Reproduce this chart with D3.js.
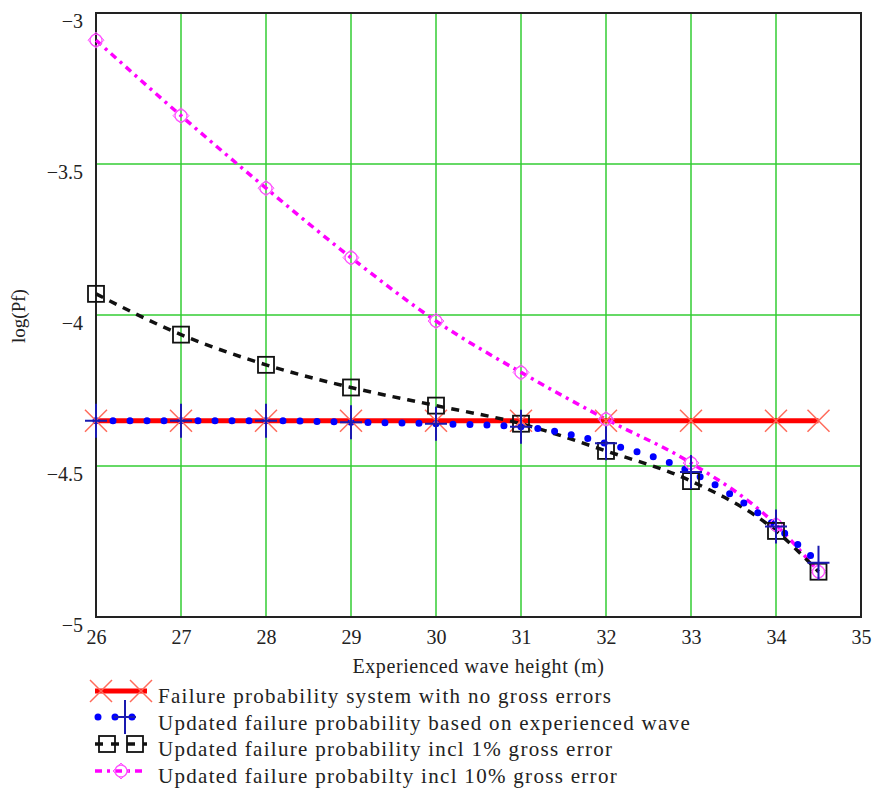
<!DOCTYPE html>
<html>
<head>
<meta charset="utf-8">
<script src="https://cdn.jsdelivr.net/npm/d3@7"></script>
<style>
  body { margin: 0; background: #fff; }
  svg text { font-family: "Liberation Serif", "Times New Roman", Times, serif; fill: #222; }
</style>
</head>
<body>
<div id="chart"></div>
<script>
const width = 875;
const height = 796;
const margin = { top: 13, right: 14, bottom: 179, left: 96 };
const serif = '"Liberation Serif", "Times New Roman", Times, serif';

// wave heights where the curves are sampled
const waveHeights = [26, 27, 28, 29, 30, 31, 32, 33, 34, 34.5];
const noGross = [-4.35, -4.35, -4.35, -4.35, -4.35, -4.35, -4.35, -4.35, -4.35, -4.35];
const updated = [-4.35, -4.35, -4.35, -4.355, -4.36, -4.37, -4.425, -4.52, -4.70, -4.82];
const gross1 = [-3.93, -4.065, -4.165, -4.24, -4.30, -4.36, -4.45, -4.55, -4.715, -4.85];
const gross10 = [-3.09, -3.34, -3.58, -3.81, -4.02, -4.19, -4.345, -4.49, -4.695, -4.85];

const xTicks = [26, 27, 28, 29, 30, 31, 32, 33, 34, 35];
const yTicks = [-3, -3.5, -4, -4.5, -5];

const legendLabels = [
    "Failure probability system with no gross errors",
    "Updated failure probability based on experienced wave",
    "Updated failure probability incl 1% gross error",
    "Updated failure probabilty incl 10% gross error",
];

const svg = d3
    .select("#chart")
    .append("svg")
    .attr("width", width)
    .attr("height", height);

const x = d3
    .scaleLinear()
    .domain([26, 35])
    .range([margin.left, width - margin.right]);

const y = d3
    .scaleLinear()
    .domain([-5, -3])
    .range([height - margin.bottom, margin.top]);

// ===== GRID =====
const grid = svg.append("g");
grid.selectAll(".vgrid")
    .data(xTicks.slice(1, -1))
    .enter()
    .append("line")
    .attr("x1", (d) => x(d))
    .attr("x2", (d) => x(d))
    .attr("y1", y(-3))
    .attr("y2", y(-5))
    .attr("stroke", "#33cc33")
    .attr("stroke-width", 1.5);
grid.selectAll(".hgrid")
    .data(yTicks.slice(1, -1))
    .enter()
    .append("line")
    .attr("x1", x(26))
    .attr("x2", x(35))
    .attr("y1", (d) => y(d))
    .attr("y2", (d) => y(d))
    .attr("stroke", "#33cc33")
    .attr("stroke-width", 1.5);

// frame
svg.append("rect")
    .attr("x", x(26))
    .attr("y", y(-3))
    .attr("width", x(35) - x(26))
    .attr("height", y(-5) - y(-3))
    .attr("fill", "none")
    .attr("stroke", "#222")
    .attr("stroke-width", 2);

// ===== AXES =====
const fmtY = (d) => "\u2212" + Math.abs(d);
const xAxis = svg.append("g")
    .attr("transform", `translate(0,${y(-5)})`)
    .call(d3.axisBottom(x).tickValues(xTicks).tickSize(0).tickPadding(13));
xAxis.select(".domain").remove();
xAxis.selectAll("text")
    .style("font-size", "20px")
    .style("font-family", serif)
    .attr("fill", "#222");

const yAxis = svg.append("g")
    .attr("transform", `translate(${x(26)},0)`)
    .call(d3.axisLeft(y).tickValues(yTicks).tickFormat(fmtY).tickSize(0).tickPadding(13));
yAxis.select(".domain").remove();
yAxis.selectAll("text")
    .attr("dy", "0.7em")
    .style("font-size", "20px")
    .style("font-family", serif)
    .attr("fill", "#222");

svg.append("text")
    .attr("x", (x(26) + x(35)) / 2)
    .attr("y", 673)
    .attr("text-anchor", "middle")
    .style("font-size", "20px")
    .style("letter-spacing", "0.6px")
    .text("Experienced wave height (m)");

svg.append("text")
    .attr("transform", "translate(25,316) rotate(-90)")
    .attr("text-anchor", "middle")
    .style("font-size", "19px")
    .text("log(Pf)");

// ===== SERIES =====
const rows = (vals) => waveHeights.map((h, i) => ({ h, v: vals[i] }));
const line = d3.line()
    .x((d) => x(d.h))
    .y((d) => y(d.v))
    .curve(d3.curveMonotoneX);

const plot = svg.append("g");

// red: no gross errors
plot.append("path")
    .datum(rows(noGross))
    .attr("d", line)
    .attr("fill", "none")
    .attr("stroke", "#ff0000")
    .attr("stroke-width", 5);

// magenta: 10% gross error
plot.append("path")
    .datum(rows(gross10))
    .attr("d", line)
    .attr("fill", "none")
    .attr("stroke", "#ff00ff")
    .attr("stroke-width", 3.5)
    .attr("stroke-dasharray", "7 5 3 5");

// black: 1% gross error
plot.append("path")
    .datum(rows(gross1))
    .attr("d", line)
    .attr("fill", "none")
    .attr("stroke", "#111")
    .attr("stroke-width", 3.5)
    .attr("stroke-dasharray", "8 7");

// blue dotted: updated
plot.append("path")
    .datum(rows(updated))
    .attr("d", line)
    .attr("fill", "none")
    .attr("stroke", "#0000ff")
    .attr("stroke-width", 7)
    .attr("stroke-linecap", "round")
    .attr("stroke-dasharray", "0 17");

// ===== MARKERS =====
function drawX(g, cx, cy) {
    g.append("path")
        .attr("d", `M${cx - 11},${cy - 11}L${cx + 11},${cy + 11}M${cx - 11},${cy + 11}L${cx + 11},${cy - 11}`)
        .attr("stroke", "#ff6a5a")
        .attr("stroke-width", 1.5)
        .attr("fill", "none");
}
function drawPlus(g, cx, cy) {
    g.append("path")
        .attr("d", `M${cx},${cy - 17}L${cx},${cy + 17}M${cx - 11},${cy}L${cx + 11},${cy}`)
        .attr("stroke", "#1a1ab0")
        .attr("stroke-width", 2)
        .attr("fill", "none");
}
function drawSquare(g, cx, cy) {
    g.append("rect")
        .attr("x", cx - 8)
        .attr("y", cy - 8)
        .attr("width", 16)
        .attr("height", 16)
        .attr("fill", "none")
        .attr("stroke", "#111")
        .attr("stroke-width", 1.8);
}
function drawCircleDiamond(g, cx, cy) {
    g.append("circle")
        .attr("cx", cx)
        .attr("cy", cy)
        .attr("r", 6)
        .attr("fill", "none")
        .attr("stroke", "#ff55ff")
        .attr("stroke-width", 1.3);
    g.append("path")
        .attr("d", `M${cx},${cy - 8}L${cx + 8},${cy}L${cx},${cy + 8}L${cx - 8},${cy}Z`)
        .attr("fill", "none")
        .attr("stroke", "#ff55ff")
        .attr("stroke-width", 1);
}

const marks = svg.append("g");
rows(noGross).forEach((d) => drawX(marks, x(d.h), y(d.v)));
rows(gross10).forEach((d) => drawCircleDiamond(marks, x(d.h), y(d.v)));
rows(gross1).forEach((d) => drawSquare(marks, x(d.h), y(d.v)));
rows(updated).forEach((d) => drawPlus(marks, x(d.h), y(d.v)));

// ===== LEGEND =====
const legendY = [697, 724, 750, 777];
const legend = svg.append("g");
const lx0 = 95, lx1 = 147;

// red
legend.append("line")
    .attr("x1", lx0).attr("x2", lx1)
    .attr("y1", legendY[0] - 6).attr("y2", legendY[0] - 6)
    .attr("stroke", "#ff0000").attr("stroke-width", 5);
drawX(legend, lx0 + 6, legendY[0] - 6);
drawX(legend, lx1 - 6, legendY[0] - 6);

// blue
legend.append("line")
    .attr("x1", lx0 + 3).attr("x2", lx1)
    .attr("y1", legendY[1] - 7).attr("y2", legendY[1] - 7)
    .attr("stroke", "#0000ff").attr("stroke-width", 7)
    .attr("stroke-linecap", "round").attr("stroke-dasharray", "0 17");
drawPlus(legend, (lx0 + lx1) / 2 + 4, legendY[1] - 7);

// black
legend.append("line")
    .attr("x1", lx0).attr("x2", lx1)
    .attr("y1", legendY[2] - 6).attr("y2", legendY[2] - 6)
    .attr("stroke", "#111").attr("stroke-width", 3.5)
    .attr("stroke-dasharray", "8 8");
drawSquare(legend, lx0 + 12, legendY[2] - 6);
drawSquare(legend, lx1 - 12, legendY[2] - 6);

// magenta
legend.append("line")
    .attr("x1", lx0).attr("x2", lx1)
    .attr("y1", legendY[3] - 6).attr("y2", legendY[3] - 6)
    .attr("stroke", "#ff00ff").attr("stroke-width", 3.5)
    .attr("stroke-dasharray", "7 5 3 5");
drawCircleDiamond(legend, (lx0 + lx1) / 2, legendY[3] - 6);

legend.selectAll(".ltext")
    .data(legendLabels)
    .enter()
    .append("text")
    .attr("x", 158)
    .attr("y", (d, i) => legendY[i] + 6)
    .style("font-size", "21px")
    .style("letter-spacing", "1.3px")
    .text((d) => d);
</script>
</body>
</html>
